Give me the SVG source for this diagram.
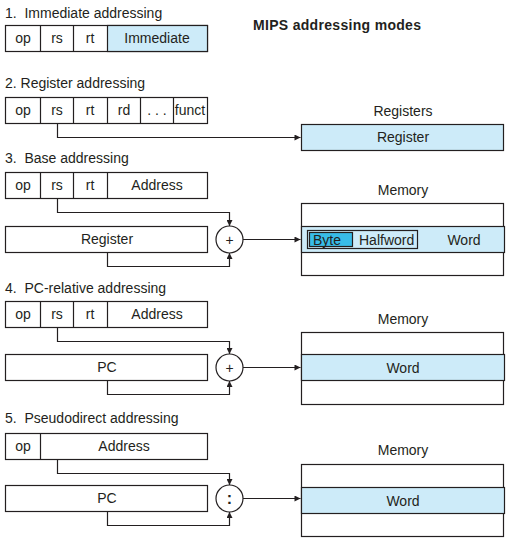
<svg xmlns="http://www.w3.org/2000/svg" width="511" height="543" viewBox="0 0 511 543">
<defs>
<marker id="ah" viewBox="0 0 10 10" refX="10" refY="5" markerWidth="8" markerHeight="6" markerUnits="userSpaceOnUse" orient="auto">
<path d="M0,0 L10,5 L0,10 z" fill="#231f20"/>
</marker>
<style>
text{font-family:"Liberation Sans",Arial,sans-serif;font-size:14px;fill:#231f20;}
.t{white-space:pre;}
.c{text-anchor:middle;}
.box{fill:#fff;stroke:#231f20;stroke-width:1.2;}
.blue{fill:#cdebf9;stroke:#231f20;stroke-width:1.2;}
.ln{fill:none;stroke:#231f20;stroke-width:1.2;}
.conn{fill:none;stroke:#231f20;stroke-width:1.2;marker-end:url(#ah);}
.h{font-weight:bold;font-size:14px;}
.op{font-size:14px;}
</style>
</defs>
<rect width="511" height="543" fill="#fff"/>

<text class="h" x="253" y="30" textLength="168">MIPS addressing modes</text>

<g id="immediate">
<text class="t" x="5" y="18">1.  Immediate addressing</text>
<rect class="box" x="5.5" y="25.5" width="202" height="26"/>
<rect class="blue" x="107.5" y="25.5" width="100" height="26"/>
<path class="ln" d="M40.5,25.5V51.5M73.5,25.5V51.5"/>
<text class="c" x="23" y="43">op</text>
<text class="c" x="57" y="43">rs</text>
<text class="c" x="90" y="43">rt</text>
<text class="c" x="157" y="43">Immediate</text>
</g>

<g id="register-instr">
<text class="t" x="5" y="88">2. Register addressing</text>
<rect class="box" x="5.5" y="97.5" width="202" height="26"/>
<path class="ln" d="M40.5,97.5V123.5M73.5,97.5V123.5M107.5,97.5V123.5M140.5,97.5V123.5M173.5,97.5V123.5"/>
<text class="c" x="23" y="115">op</text>
<text class="c" x="57" y="115">rs</text>
<text class="c" x="90" y="115">rt</text>
<text class="c" x="124" y="115">rd</text>
<text class="c" x="157" y="115">. . .</text>
<text class="c" x="190" y="115">funct</text>
</g>
<g id="registers">
<text class="c" x="403" y="116">Registers</text>
<rect class="blue" x="301.5" y="124.5" width="202" height="26"/>
<text class="c" x="403" y="142">Register</text>
</g>

<g id="base-instr">
<text class="t" x="5" y="163">3.  Base addressing</text>
<rect class="box" x="5.5" y="172.5" width="202" height="26"/>
<path class="ln" d="M40.5,172.5V198.5M73.5,172.5V198.5M107.5,172.5V198.5"/>
<text class="c" x="23" y="190">op</text>
<text class="c" x="57" y="190">rs</text>
<text class="c" x="90" y="190">rt</text>
<text class="c" x="157" y="190">Address</text>
</g>
<g id="base-reg">
<rect class="box" x="5.5" y="226.5" width="202" height="26"/>
<text class="c" x="107" y="244">Register</text>
</g>
<g id="base-add">
<circle class="box" cx="229.5" cy="239.5" r="13.5"/>
<text class="c op" x="229.5" y="244.5">+</text>
</g>
<g id="base-mem">
<text class="c" x="403" y="195">Memory</text>
<rect class="box" x="301.5" y="203.5" width="202" height="72"/>
<rect class="blue" x="301.5" y="226.5" width="203" height="26"/>
<rect fill="none" stroke="#231f20" stroke-width="1.2" x="307.5" y="230.5" width="110" height="18"/>
<rect fill="#38bce8" stroke="#231f20" stroke-width="1.2" x="309.5" y="232.5" width="43" height="14"/>
<text x="313" y="245">Byte</text>
<text x="359" y="245">Halfword</text>
<text class="c" x="464" y="245">Word</text>
</g>

<g id="pcrel-instr">
<text class="t" x="5" y="293">4.  PC-relative addressing</text>
<rect class="box" x="5.5" y="301.5" width="202" height="26"/>
<path class="ln" d="M40.5,301.5V327.5M73.5,301.5V327.5M107.5,301.5V327.5"/>
<text class="c" x="23" y="319">op</text>
<text class="c" x="57" y="319">rs</text>
<text class="c" x="90" y="319">rt</text>
<text class="c" x="157" y="319">Address</text>
</g>
<g id="pcrel-pc">
<rect class="box" x="5.5" y="354.5" width="202" height="26"/>
<text class="c" x="107" y="372">PC</text>
</g>
<g id="pcrel-add">
<circle class="box" cx="229.5" cy="367.5" r="13.5"/>
<text class="c op" x="229.5" y="372.5">+</text>
</g>
<g id="pcrel-mem">
<text class="c" x="403" y="324">Memory</text>
<rect class="box" x="301.5" y="332.5" width="202" height="72"/>
<rect class="blue" x="301.5" y="354.5" width="203" height="26"/>
<text class="c" x="403" y="373">Word</text>
</g>

<g id="pseudo-instr">
<text class="t" x="5" y="423">5.  Pseudodirect addressing</text>
<rect class="box" x="5.5" y="433.5" width="202" height="26"/>
<path class="ln" d="M40.5,433.5V459.5"/>
<text class="c" x="23" y="451">op</text>
<text class="c" x="124" y="451">Address</text>
</g>
<g id="pseudo-pc">
<rect class="box" x="5.5" y="485.5" width="202" height="26"/>
<text class="c" x="107" y="503">PC</text>
</g>
<g id="pseudo-concat">
<circle class="box" cx="229.5" cy="498.5" r="13.5"/>
<text class="c" x="229.5" y="504" style="font-weight:bold;font-size:16px">:</text>
</g>
<g id="pseudo-mem">
<text class="c" x="403" y="455">Memory</text>
<rect class="box" x="301.5" y="464.5" width="202" height="72"/>
<rect class="blue" x="301.5" y="487.5" width="203" height="26"/>
<text class="c" x="403" y="506">Word</text>
</g>

<g id="connectors">
<path class="conn" d="M57.5,124V137.5H300.5"/>
<path class="conn" d="M57.5,199V212.5H229.5V226"/>
<path class="conn" d="M107.5,253V266.5H229.5V253"/>
<path class="conn" d="M243,239.5H300.5"/>
<path class="conn" d="M57.5,328V341.5H229.5V354"/>
<path class="conn" d="M107.5,381V394.5H229.5V381"/>
<path class="conn" d="M243,367.5H300.5"/>
<path class="conn" d="M57.5,460V473.5H229.5V485"/>
<path class="conn" d="M107.5,512V525.5H229.5V512"/>
<path class="conn" d="M243,498.5H300.5"/>
</g>
</svg>
